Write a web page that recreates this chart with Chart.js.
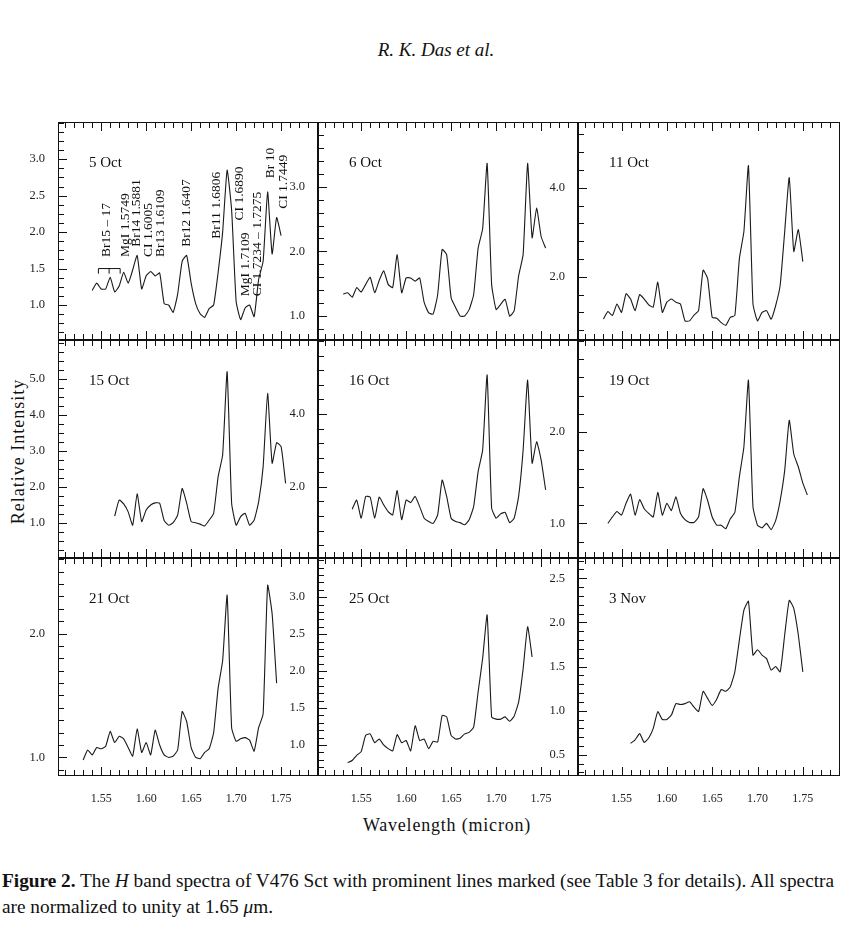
<!DOCTYPE html>
<html>
<head>
<meta charset="utf-8">
<script src="https://cdn.jsdelivr.net/npm/chart.js@4"></script>
<style>
  body { margin:0; background:#fff; width:866px; height:935px; position:relative; overflow:hidden;
         font-family:"Liberation Serif","DejaVu Serif",serif; color:#111; }
  canvas { position:absolute; }
  .txt { position:absolute; white-space:nowrap; }
</style>
</head>
<body>
<div class="txt" style="left:0;width:872px;top:39px;text-align:center;font-size:19px;font-style:italic;">R. K. Das et al.</div>
<div class="txt" style="left:-62px;top:441px;width:160px;text-align:center;font-size:18px;letter-spacing:1px;transform:rotate(-90deg);">Relative Intensity</div>
<div class="txt" style="left:0;width:894px;top:815px;text-align:center;font-size:18px;letter-spacing:0.8px;">Wavelength (micron)</div>
<div class="txt" style="left:2px;top:870px;font-size:19.3px;"><b>Figure 2.</b> The <i>H</i> band spectra of V476 Sct with prominent lines marked (see Table 3 for details). All spectra</div>
<div class="txt" style="left:2px;top:896px;font-size:19.3px;">are normalized to unity at 1.65 <i>μ</i>m.</div>

<script>
// wavelength grid (micron)
const wavelength = [1.530,1.535,1.540,1.545,1.550,1.555,1.560,1.565,1.570,1.575,
  1.580,1.585,1.590,1.595,1.600,1.605,1.610,1.615,1.620,1.625,
  1.630,1.635,1.640,1.645,1.650,1.655,1.660,1.665,1.670,1.675,
  1.680,1.685,1.690,1.695,1.700,1.705,1.710,1.715,1.720,1.725,
  1.730,1.735,1.740,1.745,1.750,1.755];

const oct05 = [null,null,1.20,1.30,1.22,1.22,1.38,1.18,1.26,1.45,1.30,1.48,1.68,1.22,1.40,1.46,1.40,1.44,1.02,1.00,
  0.90,1.15,1.60,1.68,1.30,1.02,0.88,0.83,0.95,1.00,1.45,2.00,2.85,2.30,1.05,0.80,0.96,1.00,0.84,1.35,
  1.60,2.55,1.70,2.20,1.95,null];
const oct06 = [1.34,1.36,1.29,1.44,1.37,1.49,1.60,1.36,1.55,1.70,1.49,1.44,1.95,1.36,1.59,1.59,1.54,1.59,1.21,1.05,
  1.03,1.33,2.03,1.95,1.28,1.13,1.00,1.00,1.10,1.33,2.05,2.35,3.36,1.49,1.10,1.18,1.26,1.00,1.08,1.62,
  1.95,3.36,2.21,2.67,2.23,2.05];
const oct11 = [1.05,1.22,1.13,1.39,1.20,1.62,1.50,1.24,1.60,1.50,1.37,1.32,1.88,1.20,1.43,1.50,1.43,1.39,1.01,1.01,
  1.14,1.24,2.15,1.96,1.09,1.07,0.97,0.91,1.09,1.13,2.41,3.02,4.50,1.39,1.01,1.20,1.24,1.05,1.35,1.81,
  3.02,4.23,2.57,3.06,2.34,null];
const oct15 = [null,null,null,null,null,null,null,1.19,1.64,1.53,1.31,0.94,1.81,1.04,1.36,1.50,1.56,1.55,1.07,0.94,
  1.01,1.22,1.96,1.55,1.04,1.01,0.97,0.92,1.08,1.27,2.29,2.89,5.20,1.55,0.94,1.18,1.27,0.94,1.08,1.59,
  2.56,4.60,2.66,3.23,3.12,2.10];
const oct16 = [null,null,1.39,1.64,1.14,1.74,1.72,1.14,1.72,1.51,1.32,1.23,1.90,1.10,1.64,1.57,1.74,1.46,1.14,1.05,
  1.00,1.23,2.19,1.74,1.14,1.05,1.02,0.96,1.10,1.46,2.42,3.01,5.07,1.42,1.14,1.26,1.30,1.02,1.14,1.74,
  3.01,4.93,2.65,3.24,2.74,1.92];
const oct19 = [null,1.00,1.07,1.13,1.09,1.22,1.32,1.09,1.26,1.16,1.11,1.07,1.34,1.09,1.22,1.14,1.29,1.11,1.04,1.01,
  1.01,1.07,1.38,1.25,1.07,0.98,0.98,0.94,1.05,1.12,1.51,1.84,2.57,1.18,0.98,0.95,1.00,0.93,1.03,1.25,
  1.58,2.13,1.76,1.62,1.44,1.31];
const oct21 = [0.98,1.06,1.02,1.08,1.07,1.09,1.21,1.12,1.17,1.15,1.08,1.01,1.23,1.04,1.12,1.02,1.22,1.10,1.02,1.00,
  1.01,1.06,1.37,1.29,1.08,1.00,0.99,1.04,1.07,1.20,1.56,1.78,2.31,1.24,1.13,1.15,1.16,1.14,1.05,1.24,
  1.35,2.39,2.16,1.60,null,null];
const oct25 = [null,0.76,0.79,0.86,0.91,1.13,1.15,1.03,1.08,1.00,0.95,0.92,1.14,1.03,1.06,0.92,1.26,1.06,1.08,0.95,
  1.05,1.04,1.40,1.38,1.13,1.08,1.09,1.15,1.17,1.24,1.72,2.17,2.76,1.38,1.35,1.35,1.38,1.32,1.39,1.58,
  2.03,2.60,2.19,null,null,null];
const nov03 = [null,null,null,null,null,null,0.63,0.67,0.74,0.64,0.69,0.80,0.99,0.90,0.90,0.95,1.08,1.07,1.08,1.10,
  1.04,0.99,1.22,1.14,1.06,1.13,1.24,1.22,1.27,1.44,1.80,2.14,2.24,1.63,1.69,1.63,1.59,1.46,1.50,1.44,
  1.86,2.25,2.16,1.86,1.44,null];

const dates = ['5 Oct','6 Oct','11 Oct','15 Oct','16 Oct','19 Oct','21 Oct','25 Oct','3 Nov'];
const spectra = [oct05,oct06,oct11,oct15,oct16,oct19,oct21,oct25,nov03];
const yRanges = [[0.52,3.51],[0.63,4.0],[0.58,5.48],[0.03,6.08],[0.05,6.03],[0.62,3.01],[0.85,2.61],[0.58,3.53],[0.26,2.73]];
const yLabels = [[1.0,1.5,2.0,2.5,3.0],[1.0,2.0,3.0],[2.0,4.0],[1.0,2.0,3.0,4.0,5.0],[2.0,4.0],[1.0,2.0],[1.0,2.0],
  [1.0,1.5,2.0,2.5,3.0],[0.5,1.0,1.5,2.0,2.5]];
const yMinorStep = [0.125,0.2,0.4,0.25,0.4,0.2,0.1,0.1,0.1];
const xLabels = [1.55,1.60,1.65,1.70,1.75];
const xRange = [1.502,1.791];

// line identifications in the 5 Oct panel: [text, wavelength, intensity at text start]
const lineIds = [['Br15 – 17',1.5513,1.66],['MgI 1.5749',1.5724,1.66],['Br14 1.5881',1.5853,1.80],
  ['CI 1.6005',1.5983,1.66],['Br13 1.6109',1.6112,1.66],['Br12 1.6407',1.6401,1.80],['Br11 1.6806',1.6742,1.91],
  ['CI 1.6890',1.6994,2.16],['MgI 1.7109',1.7057,1.12],['CI 1.7234 – 1.7275',1.7187,1.12],['Br 10',1.7335,2.74],
  ['CI 1.7449',1.7483,2.32]];
const bracket = [1.5469,1.5588,1.5711];

const colX = [58,318,578], rowY = [122,340,558], panelW = [260,260,262], panelH = 218, margin = 45;
const FONT = '"Liberation Serif", "DejaVu Serif", serif';

const frame = {
  id: 'frame',
  afterDatasetsDraw(chart, args, o) {
    const c = chart.ctx, a = chart.chartArea, xs = chart.scales.x, ys = chart.scales.y;
    c.save();
    c.strokeStyle = '#111'; c.lineWidth = 1;
    c.strokeRect(Math.round(a.left)+0.5, a.top+0.5, Math.round(a.right-a.left)-1, a.bottom-a.top-1);
    c.beginPath();
    for (let i = 0; i * 0.01 + 1.51 <= xRange[1]; i++) {
      const w = 1.51 + i * 0.01;
      const px = Math.round(xs.getPixelForValue(w)) + 0.5;
      const len = (i % 5 === 4) ? 9 : 6;
      c.moveTo(px, a.top); c.lineTo(px, a.top + len);
      c.moveTo(px, a.bottom); c.lineTo(px, a.bottom - len);
    }
    const st = o.minor, lo = ys.min, hi = ys.max;
    for (let v = Math.ceil(lo / st - 1e-6) * st; v <= hi; v += st) {
      const py = Math.round(ys.getPixelForValue(v)) + 0.5;
      const major = o.majors.some(m => Math.abs(m - v) < 1e-6);
      c.moveTo(a.left, py); c.lineTo(a.left + (major ? 9 : 6), py);
    }
    c.stroke();
    c.fillStyle = '#111';
    c.font = '15px ' + FONT;
    c.textBaseline = 'middle';
    c.fillText(o.date, a.left + 31, a.top + 41);
    if (o.ids) {
      c.font = '13.5px ' + FONT;
      for (const [t, w, v] of lineIds) {
        c.save();
        c.translate(xs.getPixelForValue(w) + 4, ys.getPixelForValue(v));
        c.rotate(-Math.PI / 2);
        c.fillText(t, 0, 0);
        c.restore();
      }
      const yb = ys.getPixelForValue(1.50), yt = ys.getPixelForValue(1.43);
      c.beginPath();
      c.moveTo(xs.getPixelForValue(bracket[0]), yt);
      c.lineTo(xs.getPixelForValue(bracket[0]), yb);
      c.lineTo(xs.getPixelForValue(bracket[2]), yb);
      c.lineTo(xs.getPixelForValue(bracket[2]), yt);
      c.moveTo(xs.getPixelForValue(bracket[1]), yb);
      c.lineTo(xs.getPixelForValue(bracket[1]), yt);
      c.stroke();
    }
    c.restore();
  }
};

spectra.forEach((s, i) => {
  const col = i % 3, row = Math.floor(i / 3), bottom = row === 2;
  const cv = document.createElement('canvas');
  const w = panelW[col] + margin, h = panelH + (bottom ? 30 : 0);
  cv.width = w; cv.height = h;
  cv.style.left = (colX[col] - margin) + 'px';
  cv.style.top = rowY[row] + 'px';
  cv.style.width = w + 'px'; cv.style.height = h + 'px';
  document.body.appendChild(cv);
  new Chart(cv, {
    type: 'line',
    data: { datasets: [{
      data: wavelength.map((x, k) => ({ x: x, y: s[k] })),
      borderColor: '#1a1a1a', borderWidth: 1.1, pointRadius: 0,
      tension: 0.15, spanGaps: false
    }]},
    options: {
      responsive: false, animation: false, devicePixelRatio: 1,
      layout: { padding: 0 },
      plugins: { legend: { display: false }, tooltip: { enabled: false },
        frame: { date: dates[i], majors: yLabels[i], minor: yMinorStep[i], ids: i === 0 } },
      scales: {
        x: { type: 'linear', min: xRange[0], max: xRange[1],
          afterBuildTicks: sc => { sc.ticks = xLabels.map(v => ({ value: v })); },
          afterFit: sc => { sc.height = bottom ? 30 : 0; sc.paddingLeft = 0; sc.paddingRight = 0; },
          grid: { display: false }, border: { display: false },
          ticks: { display: bottom, maxRotation: 0, autoSkip: false, padding: 8,
            color: '#222', font: { family: FONT, size: 12 }, callback: v => v.toFixed(2) } },
        y: { min: yRanges[i][0], max: yRanges[i][1],
          afterBuildTicks: sc => { sc.ticks = yLabels[i].map(v => ({ value: v })); },
          afterFit: sc => { sc.width = margin; sc.paddingTop = 0; sc.paddingBottom = 0; },
          grid: { display: false }, border: { display: false },
          ticks: { padding: 5, color: '#222', font: { family: FONT, size: 12.5 }, callback: v => v.toFixed(1) } }
      }
    },
    plugins: [frame]
  });
});
</script>
</body>
</html>
